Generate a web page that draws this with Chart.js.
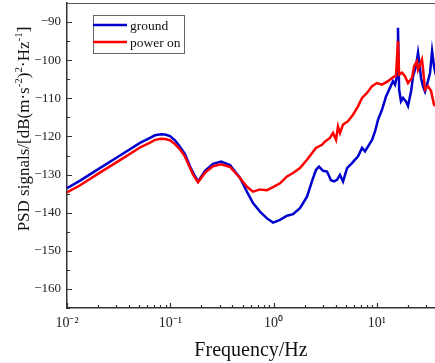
<!DOCTYPE html>
<html>
<head>
<meta charset="utf-8">
<script src="https://cdn.jsdelivr.net/npm/chart.js@4.4.0/dist/chart.umd.min.js"></script>
<style>
  body { margin: 0; background: #fff; }
  canvas { display: block; }
</style>
</head>
<body>
<canvas id="psd" width="435" height="363"></canvas>
<script>
// PSD of the ground measurement, Hz / dB
const groundFreq = [0.01, 0.0134, 0.0208, 0.0326, 0.0509, 0.0636, 0.0711, 0.0813, 0.0889, 0.0993,
    0.111, 0.124, 0.1387, 0.155, 0.166, 0.1855, 0.217, 0.259, 0.31, 0.378,
    0.473, 0.552, 0.632, 0.738, 0.863, 0.987, 1.153, 1.349, 1.542, 1.80,
    2.105, 2.35, 2.57, 2.75, 3.01, 3.29, 3.59, 3.85, 4.11, 4.39,
    4.70, 5.14, 5.74, 6.14, 6.56, 7.18, 7.67, 8.21, 8.97, 9.59,
    10.26, 11.2, 12.25, 13.4, 14.3, 14.97, 15.7, 16.0, 16.4, 17.1,
    17.9, 19.1, 20.0, 21.4, 22.4, 23.9, 25.0, 25.8, 26.7, 27.9,
    29.2, 31.2, 32.7, 34.2, 35.7, 37.3];
const groundPsd = [-133.6, -131.6, -128.3, -125.0, -121.7, -120.4, -119.7, -119.4, -119.5, -119.9,
    -121.0, -122.7, -124.6, -127.8, -129.5, -131.8, -129.0, -127.2, -126.6, -127.5,
    -130.9, -134.5, -137.5, -139.7, -141.5, -142.6, -141.9, -140.8, -140.4, -138.8,
    -135.8, -131.8, -128.8, -127.9, -129.0, -129.2, -131.5, -131.8, -131.4, -130.1,
    -131.8, -128.3, -127.0, -126.1, -125.3, -123.0, -123.9, -122.6, -120.9, -118.7,
    -115.6, -113.0, -109.5, -107.2, -105.5, -106.4, -104.0, -91.5, -107.7, -110.8,
    -109.9, -110.8, -112.0, -108.2, -104.2, -101.6, -98.0, -100.7, -104.6, -106.8,
    -108.2, -105.5, -103.3, -97.6, -101.6, -104.0];

// PSD with power on
const powerFreq = [0.01, 0.0134, 0.0208, 0.0326, 0.0509, 0.0636, 0.0711, 0.0813, 0.0889, 0.0993,
    0.111, 0.124, 0.1387, 0.155, 0.166, 0.1855, 0.217, 0.259, 0.31, 0.378,
    0.473, 0.552, 0.632, 0.738, 0.863, 0.987, 1.153, 1.349, 1.542, 1.80,
    2.105, 2.35, 2.57, 2.94, 3.15, 3.51, 3.76, 4.02, 4.20, 4.39,
    4.70, 5.25, 5.87, 6.56, 7.18, 8.02, 8.97, 10.0, 11.2, 12.8,
    14.3, 15.3, 16.0, 16.4, 17.5, 18.7, 20.0, 21.9, 22.9, 24.4,
    25.0, 27.3, 27.9, 29.2, 31.2, 33.4, 35.7, 37.3];
const powerPsd = [-134.7, -132.8, -129.5, -126.2, -122.9, -121.6, -120.9, -120.6, -120.7, -121.0,
    -122.0, -123.4, -125.3, -128.2, -130.0, -132.0, -129.5, -127.8, -127.3, -128.0,
    -130.9, -133.2, -134.5, -133.9, -134.1, -133.3, -132.3, -130.5, -129.6, -128.3,
    -126.1, -124.4, -123.0, -122.2, -121.3, -120.4, -119.1, -120.9, -117.4, -119.1,
    -116.9, -116.0, -114.3, -112.1, -109.9, -108.6, -106.8, -106.0, -106.4, -105.5,
    -104.5, -104.0, -95.0, -103.8, -103.3, -104.2, -106.0, -104.6, -101.6, -100.3,
    -102.5, -99.8, -102.0, -107.7, -106.8, -108.0, -111.7, -112.0];

const xMajorTicks = [0.01, 0.1, 1, 10];
const xTickLabels = ['10\u207B\u00B2', '10\u207B\u00B9', '10\u2070', '10\u00B9'];
const yMajorTicks = [-160, -150, -140, -130, -120, -110, -100, -90];

const SERIF = "'Liberation Serif', 'Times New Roman', serif";

function toPoints(xs, ys) {
    return xs.map((x, i) => ({ x, y: ys[i] }));
}

// short inward ticks plus the top frame line
const innerTicks = {
    id: 'innerTicks',
    afterDraw(chart) {
        const { ctx, chartArea } = chart;
        const x = chart.scales.x;
        const y = chart.scales.y;
        ctx.save();
        ctx.strokeStyle = '#333';
        ctx.lineWidth = 1.2;
        ctx.beginPath();
        for (let e = -2; e <= 1; e++) {
            for (let m = 1; m <= 9; m++) {
                const v = m * Math.pow(10, e);
                if (v > x.max) break;
                const px = Math.round(x.getPixelForValue(v)) + 0.5;
                const len = m === 1 ? 5 : 3;
                ctx.moveTo(px, chartArea.bottom);
                ctx.lineTo(px, chartArea.bottom - len);
            }
        }
        for (let v = -165; v <= -85; v += 5) {
            const py = Math.round(y.getPixelForValue(v)) + 0.5;
            const len = v % 10 === 0 ? 5 : 3;
            ctx.moveTo(chartArea.left, py);
            ctx.lineTo(chartArea.left + len, py);
        }
        ctx.stroke();
        ctx.strokeStyle = '#555';
        ctx.lineWidth = 1;
        ctx.beginPath();
        ctx.moveTo(chartArea.left, chartArea.top + 0.5);
        ctx.lineTo(chartArea.right, chartArea.top + 0.5);
        ctx.stroke();
        ctx.restore();
    }
};

const boxLegend = {
    id: 'boxLegend',
    afterDraw(chart) {
        const { ctx, chartArea } = chart;
        const bx = chartArea.left + 26;
        const by = chartArea.top + 12;
        const bw = 91;
        ctx.save();
        ctx.fillStyle = '#fff';
        ctx.fillRect(bx, by, bw, 38);
        ctx.strokeStyle = '#666';
        ctx.lineWidth = 1;
        ctx.strokeRect(bx + 0.5, by + 0.5, bw, 38);
        ctx.font = '13.5px ' + SERIF;
        ctx.textBaseline = 'middle';
        chart.data.datasets.forEach((ds, i) => {
            const ly = by + 10 + i * 17;
            ctx.strokeStyle = ds.borderColor;
            ctx.lineWidth = 2.5;
            ctx.beginPath();
            ctx.moveTo(bx, ly);
            ctx.lineTo(bx + 34, ly);
            ctx.stroke();
            ctx.fillStyle = '#111';
            ctx.fillText(ds.label, bx + 37, ly + 1);
        });
        ctx.restore();
    }
};

// y title with real superscripts
const yTitle = {
    id: 'yTitle',
    afterDraw(chart) {
        const { ctx } = chart;
        const parts = [
            ['PSD signals/[dB(m\u00B7s', false],
            ['-2', true],
            [')', false],
            ['2', true],
            ['\u00B7Hz', false],
            ['-1', true],
            [']', false],
        ];
        const big = '17px ' + SERIF;
        const small = '11px ' + SERIF;
        ctx.save();
        let total = 0;
        parts.forEach(([t, sup]) => {
            ctx.font = sup ? small : big;
            total += ctx.measureText(t).width;
        });
        ctx.translate(29, 129);
        ctx.rotate(-Math.PI / 2);
        ctx.fillStyle = '#111';
        ctx.textBaseline = 'alphabetic';
        let cx = -total / 2;
        parts.forEach(([t, sup]) => {
            ctx.font = sup ? small : big;
            ctx.fillText(t, cx, sup ? -7 : 0);
            cx += ctx.measureText(t).width;
        });
        ctx.restore();
    }
};

new Chart(document.getElementById('psd'), {
    type: 'line',
    data: {
        datasets: [
            {
                label: 'ground',
                data: toPoints(groundFreq, groundPsd),
                borderColor: '#0000cc',
                borderWidth: 2.5,
                pointRadius: 0,
                tension: 0,
                order: 1,
            },
            {
                label: 'power on',
                data: toPoints(powerFreq, powerPsd),
                borderColor: '#ff0000',
                borderWidth: 2.5,
                pointRadius: 0,
                tension: 0,
                order: 0,
            },
        ],
    },
    options: {
        responsive: false,
        animation: false,
        layout: { padding: { top: 3, right: 0, left: 0, bottom: 0 } },
        plugins: {
            legend: { display: false },
            tooltip: { enabled: false },
        },
        scales: {
            x: {
                type: 'logarithmic',
                min: 0.01,
                max: 36.5,
                afterBuildTicks: (scale) => {
                    scale.ticks = xMajorTicks.map(v => ({ value: v }));
                },
                afterFit: (scale) => { scale.height = 55; },
                ticks: {
                    autoSkip: false,
                    maxRotation: 0,
                    padding: 7,
                    color: '#222',
                    font: { family: SERIF, size: 14 },
                    callback: (value) => {
                        const i = xMajorTicks.findIndex(t => Math.abs(t - value) / t < 1e-6);
                        return i >= 0 ? xTickLabels[i] : '';
                    },
                },
                grid: { display: true, drawOnChartArea: false, drawTicks: false },
                border: { color: '#333', width: 1.5 },
                title: {
                    display: true,
                    text: 'Frequency/Hz',
                    color: '#111',
                    font: { family: SERIF, size: 20 },
                    padding: { top: 6, bottom: 0 },
                },
            },
            y: {
                type: 'linear',
                min: -165,
                max: -85,
                afterBuildTicks: (scale) => {
                    scale.ticks = yMajorTicks.map(v => ({ value: v }));
                },
                afterFit: (scale) => {
                    scale.width = 67;
                    scale.paddingTop = 0;
                    scale.paddingBottom = 0;
                },
                ticks: {
                    padding: 6,
                    color: '#222',
                    font: { family: SERIF, size: 13 },
                    callback: (value) => String(value).replace('-', '\u2212'),
                },
                grid: { display: true, drawOnChartArea: false, drawTicks: false },
                border: { color: '#333', width: 1.5 },
            },
        },
    },
    plugins: [innerTicks, boxLegend, yTitle],
});
</script>
</body>
</html>
